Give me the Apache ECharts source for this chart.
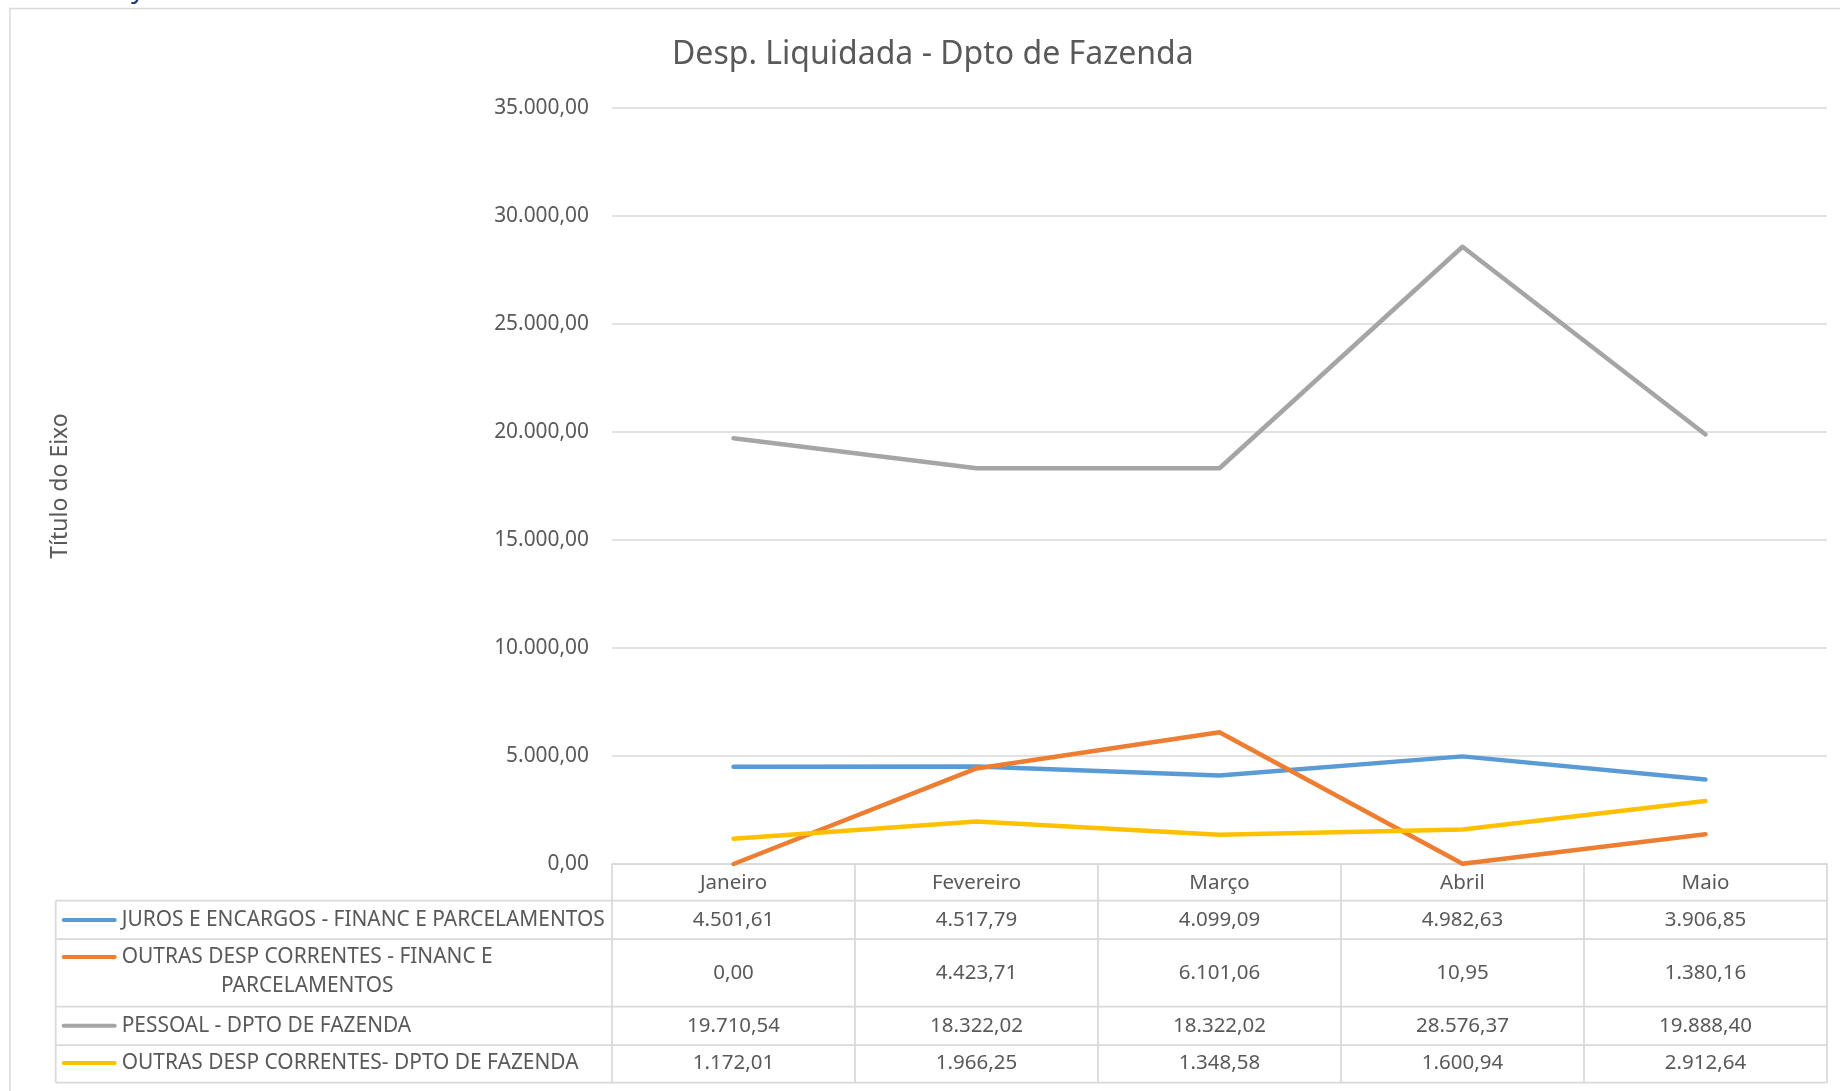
<!DOCTYPE html>
<html style="height: 100%">
<head>
    <meta charset="utf-8">
    <script src="https://cdn.jsdelivr.net/npm/echarts@6/dist/echarts.min.js"></script>
</head>
<body style="height: 100%; margin: 0; background: #fff">
<div id="container" style="width: 1840px; height: 1091px"></div>
<script type="text/javascript">
// dados
var categorias = ['Janeiro', 'Fevereiro', 'Março', 'Abril', 'Maio'];
var juros = [4501.61, 4517.79, 4099.09, 4982.63, 3906.85];
var outrasFinanc = [0.00, 4423.71, 6101.06, 10.95, 1380.16];
var pessoal = [19710.54, 18322.02, 18322.02, 28576.37, 19888.40];
var outrasDpto = [1172.01, 1966.25, 1348.58, 1600.94, 2912.64];
var nomes = [
    'JUROS E ENCARGOS - FINANC E PARCELAMENTOS',
    'OUTRAS DESP CORRENTES - FINANC E PARCELAMENTOS',
    'PESSOAL - DPTO DE FAZENDA',
    'OUTRAS DESP CORRENTES- DPTO DE FAZENDA'
];
var yMin = 0, yMax = 35000, yStep = 5000;

var series = [juros, outrasFinanc, pessoal, outrasDpto];
var cores = ['#5B9BD5', '#ED7D31', '#A5A5A5', '#FFC000'];

// layout
var plotLeft = 612, plotRight = 1827, plotTop = 108, plotBottom = 864;
var tabLeft = 55.7;
var rowLines = [900.7, 939, 1006.7, 1045, 1082.7];
var rowCenters = [920, 973, 1025.7, 1063];
var keyCenters = [920, 957, 1025.7, 1063];
var txt = '#595959', linha = '#D9D9D9', fs = 20.5, fsLeg = 20.9;

function fmtBR(v) {
    var s = v.toFixed(2).split('.');
    s[0] = s[0].replace(/\B(?=(\d{3})+(?!\d))/g, '.');
    return s[0] + ',' + s[1];
}

var dom = document.getElementById('container');
var myChart = echarts.init(dom);

var xAxes = [{
    type: 'category',
    data: categorias,
    boundaryGap: true,
    position: 'bottom',
    axisLine: { show: true, lineStyle: { color: linha, width: 1.75 } },
    axisTick: { show: false },
    axisLabel: { color: txt, fontSize: fs, margin: 18.7, verticalAlign: 'middle' },
    splitLine: { show: false }
}];
// linhas de valores da tabela de dados
series.forEach(function (vals, i) {
    xAxes.push({
        type: 'category',
        data: categorias,
        boundaryGap: true,
        position: 'bottom',
        axisLine: { show: false },
        axisTick: { show: false },
        splitLine: { show: false },
        axisLabel: {
            color: txt, fontSize: fs, verticalAlign: 'middle',
            margin: rowCenters[i] - plotBottom,
            formatter: function (v, idx) { return fmtBR(vals[idx]); }
        }
    });
});

var legends = nomes.map(function (nome, i) {
    var multi = i === 1;
    return {
        data: [nome],
        left: 61.7,
        top: keyCenters[i] - (multi ? 43.5 : 14.5),
        padding: 0,
        itemWidth: 55,
        itemHeight: 4.5,
        itemGap: 0,
        textGap: 5,
        selectedMode: false,
        icon: 'path://M2,0L53,0A2,2,0,0,1,53,4L2,4A2,2,0,0,1,2,0Z',
        textStyle: {
            color: txt, fontSize: fsLeg, lineHeight: 29,
            rich: { c: { align: 'center', color: txt, fontSize: fsLeg, lineHeight: 29 } }
        },
        formatter: multi ? function () {
            return ' \n{c|OUTRAS DESP CORRENTES - FINANC E}\n{c|PARCELAMENTOS}';
        } : null
    };
});

// bordas da tabela
var graficos = [];
var colW = (plotRight - plotLeft) / categorias.length;
rowLines.forEach(function (y) {
    graficos.push({ type: 'line', shape: { x1: tabLeft, y1: y, x2: plotRight, y2: y },
        style: { stroke: linha, lineWidth: 1.75 }, silent: true });
});
graficos.push({ type: 'line', shape: { x1: tabLeft, y1: rowLines[0], x2: tabLeft, y2: rowLines[4] },
    style: { stroke: linha, lineWidth: 1.75 }, silent: true });
for (var k = 0; k <= categorias.length; k++) {
    var x = plotLeft + k * colW;
    graficos.push({ type: 'line', shape: { x1: x, y1: plotBottom, x2: x, y2: rowLines[4] },
        style: { stroke: linha, lineWidth: 1.75 }, silent: true });
}
// moldura do gráfico
graficos.push({ type: 'rect', shape: { x: 10, y: 8.5, width: 1900, height: 1200 },
    style: { fill: null, stroke: linha, lineWidth: 1.5 }, silent: true });
graficos.push({ type: 'text', x: 131, y: -25, silent: true,
    style: { text: 'y', fill: '#1F3A7A', font: '28px "Noto Sans"' } });

var option = {
    backgroundColor: '#fff',
    animation: false,
    textStyle: { fontFamily: '"Noto Sans", sans-serif' },
    title: {
        text: 'Desp. Liquidada - Dpto de Fazenda',
        left: 672,
        top: 38.5,
        padding: 0,
        textStyle: { color: txt, fontSize: 32, fontWeight: 'normal' }
    },
    legend: legends,
    grid: {
        left: plotLeft,
        right: 1840 - plotRight,
        top: plotTop,
        bottom: 1091 - plotBottom
    },
    xAxis: xAxes,
    yAxis: {
        type: 'value',
        min: yMin,
        max: yMax,
        interval: yStep,
        name: 'Título do Eixo',
        nameLocation: 'middle',
        nameRotate: 90,
        nameGap: 540,
        nameTextStyle: { color: txt, fontSize: 23 },
        axisLine: { show: false },
        axisTick: { show: false },
        axisLabel: { color: txt, fontSize: 20.9, margin: 23, formatter: fmtBR },
        splitLine: { lineStyle: { color: linha, width: 1.5 } }
    },
    graphic: graficos,
    series: series.map(function (vals, i) {
        return {
            name: nomes[i],
            type: 'line',
            data: vals,
            symbol: 'none',
            color: cores[i],
            lineStyle: { color: cores[i], width: 4.5, cap: 'round', join: 'round' }
        };
    })
};

myChart.setOption(option);
</script>
</body>
</html>
